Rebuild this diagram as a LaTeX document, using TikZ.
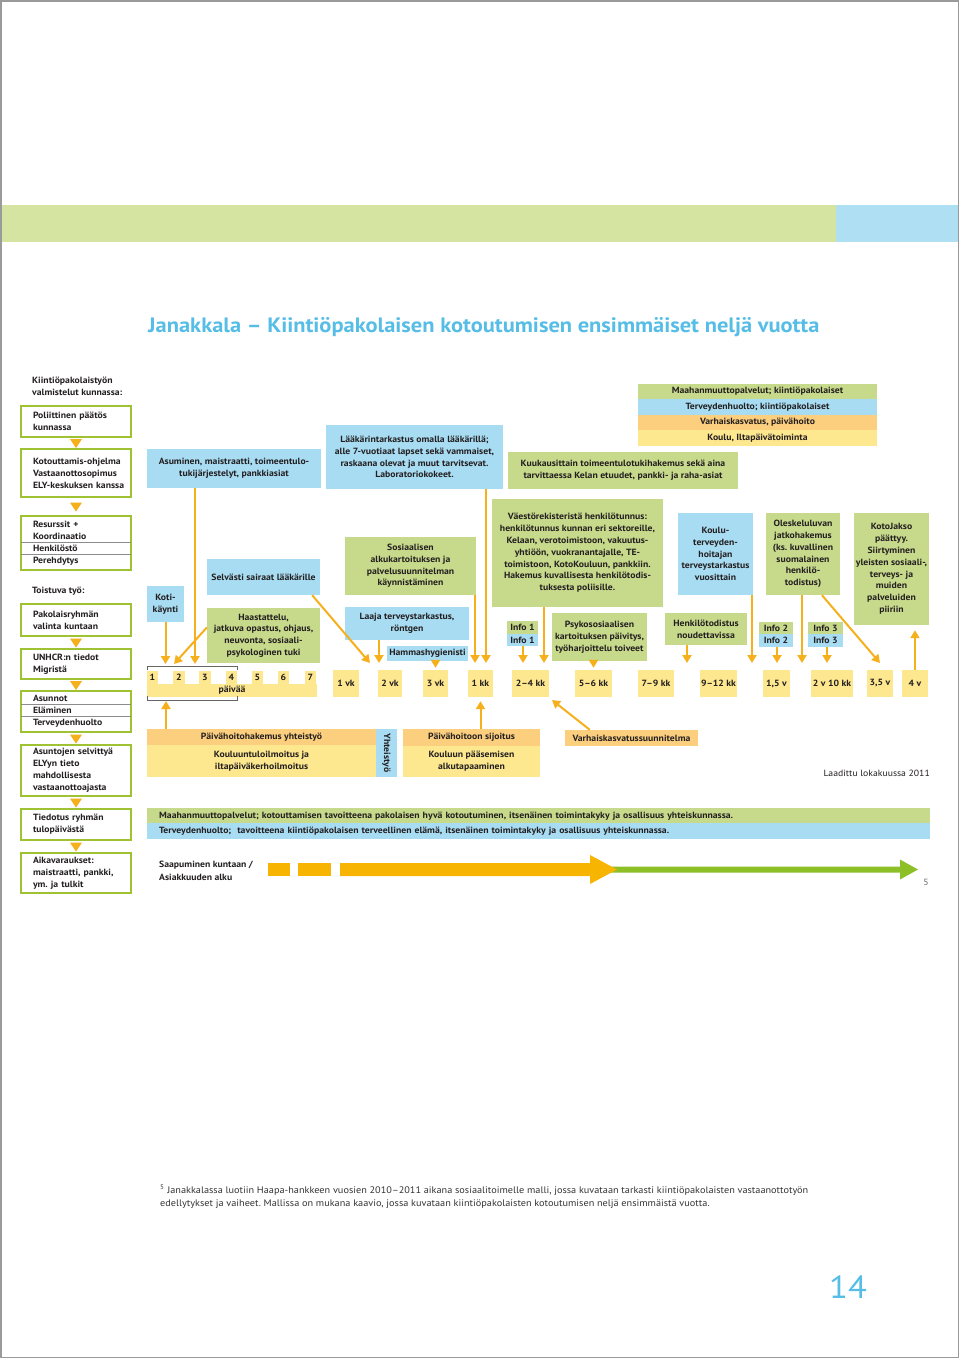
\documentclass[tikz,border=0pt]{standalone}
\usepackage{fontspec}
\setmainfont{PT Sans}[FakeStretch=1.08]
\usetikzlibrary{arrows.meta,calc}
\frenchspacing
\definecolor{grn}{HTML}{C7D98B}
\definecolor{blu}{HTML}{A8DCF2}
\definecolor{org}{HTML}{FBCF7E}
\definecolor{yel}{HTML}{FDE78F}
\definecolor{arrc}{HTML}{F5B01C}
\definecolor{lgrn}{HTML}{9EC232}
\definecolor{ttl}{HTML}{55BDE6}
\definecolor{topg}{HTML}{D6E4A1}
\definecolor{topb}{HTML}{AEDFF3}
\definecolor{bigo}{HTML}{F7B400}
\definecolor{bigg}{HTML}{8DC026}
\definecolor{frm}{HTML}{9A9A9A}
\definecolor{txt}{HTML}{231F20}
\begin{document}
\frenchspacing
\begin{tikzpicture}[x=1pt,y=-1pt,
  bx/.style={inner sep=0pt, align=center, text=txt, font=\bfseries\fontsize{9}{11.8}\selectfont},
  gb/.style={bx, fill=grn},
  bb/.style={bx, fill=blu},
  ob/.style={bx, fill=org},
  yb/.style={bx, fill=yel},
  tl/.style={bx, fill=yel, minimum height=27pt},
  lb/.style={draw=lgrn, line width=2pt, fill=white, anchor=north west, minimum width=110pt, text width=100pt, inner xsep=5pt, inner ysep=0pt, align=left, text=txt, font=\bfseries\fontsize{9}{12}\selectfont, execute at begin node={\leftskip=7pt}},
  arr/.style={draw=arrc, line width=2pt, -{Triangle[width=9pt,length=8pt]}},
  tri/.style={fill=arrc},
  sep/.style={draw=black!45, line width=0.8pt},
  brk/.style={draw=black!60, line width=1pt},
  plain/.style={inner sep=0pt, text=txt, font=\bfseries\fontsize{9}{12}\selectfont},
]
\useasboundingbox (0,0) rectangle (960,1358);
\fill[white] (0,0) rectangle (960,1358);
\draw[frm, line width=1.5pt] (0.75,0.75) rectangle (958.5,1357.25);

% top band
\fill[topg] (1.5,205) rectangle (836,242);
\fill[topb] (836,205) rectangle (957.75,242);

% title
\node[anchor=west, inner sep=0pt, text=ttl, font=\bfseries\fontsize{20.8}{24}\selectfont] (title) at (148,327) {Janakkala – Kiintiöpakolaisen kotoutumisen ensimmäiset neljä vuotta};

% left column
\node[plain, anchor=west, align=left] (hd1) at (32,386) {Kiintiöpakolaistyön\\valmistelut kunnassa:};
\node[lb, minimum height=31pt] (l1) at (20,405) {Poliittinen päätös\\kunnassa};
\node[lb, minimum height=48pt] (l2) at (20,448) {Kotouttamis-ohjelma\\Vastaanottosopimus\\ELY-keskuksen kanssa};
\node[lb, minimum height=54pt] (l3) at (20,515) {Resurssit +\\Koordinaatio\\Henkilöstö\\Perehdytys};
\draw[sep] ($(l3.north west)+(1,27)$) -- ($(l3.north east)+(-1,27)$);
\draw[sep] ($(l3.north west)+(1,39)$) -- ($(l3.north east)+(-1,39)$);
\node[plain, anchor=west] (hd2) at (32,591) {Toistuva työ:};
\node[lb, minimum height=32pt] (l4) at (20,603) {Pakolaisryhmän\\valinta kuntaan};
\node[lb, minimum height=30pt] (l5) at (20,648) {UNHCR:n tiedot\\Migristä};
\node[lb, minimum height=41pt] (l6) at (20,690) {Asunnot\\Eläminen\\Terveydenhuolto};
\draw[sep] ($(l6.north west)+(1,14.5)$) -- ($(l6.north east)+(-1,14.5)$);
\draw[sep] ($(l6.north west)+(1,26.5)$) -- ($(l6.north east)+(-1,26.5)$);
\node[lb, minimum height=51pt] (l7) at (20,744) {Asuntojen selvittyä\\ELYyn tieto\\mahdollisesta\\vastaanottoajasta};
\node[lb, minimum height=31pt] (l8) at (20,808) {Tiedotus ryhmän\\tulopäivästä};
\node[lb, minimum height=40pt] (l9) at (20,852) {Aikavaraukset:\\maistraatti, pankki,\\ym.\ ja tulkit};
\foreach \a/\b in {l1/l2, l2/l3, l4/l5, l5/l6, l6/l7, l7/l8, l8/l9}
  \fill[tri] ($(\a.south)!.5!(\b.north)$) +(-6,-4) -- +(6,-4) -- +(0,5) -- cycle;

% top boxes
\node[bb, minimum width=174pt, minimum height=39pt] (asum) at (234,468.5) {Asuminen, maistraatti, toimeentulo-\\tukijärjestelyt, pankkiasiat};
\node[bb, minimum width=177pt, minimum height=64pt] (laak) at (414.5,457) {Lääkärintarkastus omalla lääkärillä;\\alle 7-vuotiaat lapset sekä vammaiset,\\raskaana olevat ja muut tarvitsevat.\\Laboratoriokokeet.};
\node[gb, minimum width=230pt, minimum height=37pt] (kuuk) at (623,470.5) {Kuukausittain toimeentulotukihakemus sekä aina\\tarvittaessa Kelan etuudet, pankki- ja raha-asiat};
\node[gb, minimum width=239pt, minimum height=15.5pt] (lg1) at (757.5,391.5) {Maahanmuuttopalvelut; kiintiöpakolaiset};
\node[bb, minimum width=239pt, minimum height=15.5pt] (lg2) at (757.5,407) {Terveydenhuolto; kiintiöpakolaiset};
\node[ob, minimum width=239pt, minimum height=15.5pt] (lg3) at (757.5,422.5) {Varhaiskasvatus, päivähoito};
\node[yb, minimum width=239pt, minimum height=15.5pt] (lg4) at (757.5,438) {Koulu, Iltapäivätoiminta};

% middle boxes
\node[bb, minimum width=37pt, minimum height=36pt] (koti) at (165.5,604) {Koti-\\käynti};
\node[bb, minimum width=113pt, minimum height=36pt] (selv) at (263.5,577) {Selvästi sairaat lääkärille};
\node[gb, minimum width=113pt, minimum height=55pt] (haas) at (263.5,635.5) {Haastattelu,\\jatkuva opastus, ohjaus,\\neuvonta, sosiaali-\\psykologinen tuki};
\node[gb, minimum width=131pt, minimum height=58pt] (sosi) at (410.5,566) {Sosiaalisen\\alkukartoituksen ja\\palvelusuunnitelman\\käynnistäminen};
\node[bb, minimum width=124pt, minimum height=33pt] (laaja) at (407,623.5) {Laaja terveystarkastus,\\röntgen};
\node[bb, minimum width=81pt, minimum height=15pt] (hamm) at (427.5,653.5) {Hammashygienisti};
\node[gb, minimum width=171pt, minimum height=108pt] (vaes) at (577.5,553) {Väestörekisteristä henkilötunnus:\\henkilötunnus kunnan eri sektoreille,\\Kelaan, verotoimistoon, vakuutus-\\yhtiöön, vuokranantajalle, TE-\\toimistoon, KotoKouluun, pankkiin.\\Hakemus kuvallisesta henkilötodis-\\tuksesta poliisille.};
\node[gb, minimum width=31pt, minimum height=12.5pt] (info1g) at (522.5,627.5) {Info 1};
\node[bb, minimum width=31pt, minimum height=12.5pt] (info1b) at (522.5,640) {Info 1};
\node[gb, minimum width=95pt, minimum height=48pt] (psyk) at (599.5,637) {Psykososiaalisen\\kartoituksen päivitys,\\työharjoittelu toiveet};
\node[gb, minimum width=82pt, minimum height=32pt] (henk) at (706,629) {Henkilötodistus\\noudettavissa};
\node[bb, minimum width=75pt, minimum height=82pt] (koul) at (715.5,554) {Koulu-\\terveyden-\\hoitajan\\terveystarkastus\\vuosittain};
\node[gb, minimum width=74pt, minimum height=82pt] (oles) at (803,554) {Oleskeluluvan\\jatkohakemus\\(ks.\ kuvallinen\\suomalainen\\henkilö-\\todistus)};
\node[gb, minimum width=34pt, minimum height=12.5pt] (info2g) at (776,628) {Info 2};
\node[bb, minimum width=34pt, minimum height=12.5pt] (info2b) at (776,640.5) {Info 2};
\node[gb, minimum width=35pt, minimum height=12.5pt] (info3g) at (825.5,628) {Info 3};
\node[bb, minimum width=35pt, minimum height=12.5pt] (info3b) at (825.5,640.5) {Info 3};
\node[gb, minimum width=75pt, minimum height=112pt] (koto) at (891.5,569) {KotoJakso\\päättyy.\\Siirtyminen\\yleisten sosiaali-,\\terveys- ja\\muiden\\palveluiden\\piiriin};

% days
\node[yb, minimum width=170pt, minimum height=13pt] (days) at (232,690.5) {päivää};
\foreach \i/\x in {1/152.5, 2/179, 3/205, 4/231.5, 5/257.5, 6/283.5, 7/310.5}
  \node[yb, minimum width=11.5pt, minimum height=13.5pt] (d\i) at (\x,677.5) {\i};
\draw[brk] (147.5,670) -- (147.5,666) -- (237.5,666) -- (237.5,670);
\draw[brk] (147.5,696) -- (147.5,700) -- (237.5,700) -- (237.5,696);

% timeline
\node[tl, minimum width=26pt] (w1) at (346,683.5) {1 vk};
\node[tl, minimum width=24pt] (w2) at (390,683.5) {2 vk};
\node[tl, minimum width=25pt] (w3) at (435.5,683.5) {3 vk};
\node[tl, minimum width=25pt] (m1) at (480.5,683.5) {1 kk};
\node[tl, minimum width=37pt] (m24) at (530.5,683.5) {2–4 kk};
\node[tl, minimum width=37pt] (m56) at (593.5,683.5) {5–6 kk};
\node[tl, minimum width=36pt] (m79) at (656,683.5) {7–9 kk};
\node[tl, minimum width=37pt] (m912) at (718.5,683.5) {9–12 kk};
\node[tl, minimum width=27pt] (y15) at (776.5,683.5) {1,5 v};
\node[tl, minimum width=42pt] (y210) at (832,683.5) {2 v 10 kk};
\node[tl, minimum width=26pt] (y35) at (880,683.5) {3,5 v};
\node[tl, minimum width=26pt] (y4) at (915,683.5) {4 v};

% bottom boxes
\node[ob, minimum width=229pt, minimum height=16pt] (phak) at (261.5,737) {Päivähoitohakemus yhteistyö};
\node[yb, minimum width=229pt, minimum height=32pt] (kouil) at (261.5,761) {Kouluuntuloilmoitus ja\\iltapäiväkerhoilmoitus};
\node[bb, rotate=-90, minimum width=48pt, minimum height=21pt] (yht) at (386.5,753) {Yhteistyö};
\node[ob, minimum width=137pt, minimum height=17pt] (psij) at (471.5,737.5) {Päivähoitoon sijoitus};
\node[yb, minimum width=137pt, minimum height=31pt] (koulpa) at (471.5,761.5) {Kouluun pääsemisen\\alkutapaaminen};
\node[ob, minimum width=133pt, minimum height=16pt] (vasu) at (631.5,738) {Varhaiskasvatussuunnitelma};
\node[plain, font=\fontsize{9}{10}\selectfont, anchor=east] (laad) at (930,773) {Laadittu lokakuussa 2011};

% bands
\node[gb, anchor=north west, minimum width=783pt, minimum height=15pt, text width=759pt, inner xsep=12pt, align=left] (band1) at (147,808) {Maahanmuuttopalvelut; kotouttamisen tavoitteena pakolaisen hyvä kotoutuminen, itsenäinen toimintakyky ja osallisuus yhteiskunnassa.};
\node[bb, anchor=north west, minimum width=783pt, minimum height=15.5pt, text width=759pt, inner xsep=12pt, align=left] (band2) at (147,823) {Terveydenhuolto;\ \ tavoitteena kiintiöpakolaisen terveellinen elämä, itsenäinen toimintakyky ja osallisuus yhteiskunnassa.};

% arrival arrow
\node[plain, anchor=west, align=left, font=\bfseries\fontsize{9}{13}\selectfont] (saap) at (159,870.5) {Saapuminen kuntaan /\\Asiakkuuden alku};
\fill[bigg] (600,866.5) -- (900,866.5) -- (900,859.5) -- (918,869.5) -- (900,879.5) -- (900,872.5) -- (600,872.5) -- cycle;
\fill[bigo] (268,863) rectangle (290,876);
\fill[bigo] (298,863) rectangle (331,876);
\fill[bigo] (340,863) -- (590,863) -- (590,855) -- (617,869.5) -- (590,884) -- (590,876) -- (340,876) -- cycle;
\node[inner sep=0pt, text=black!60, font=\fontsize{9}{10}\selectfont] (pg5) at (926,882) {5};

% arrows
\coordinate (e1) at (195,664);
\coordinate (e3) at (174,664);
\coordinate (e4) at (370,663);
\coordinate (e5) at (379,663);
\coordinate (e7) at (475,663);
\coordinate (e8) at (486,663);
\coordinate (e9) at (523,663);
\coordinate (e10) at (544,663);
\coordinate (e12) at (687,663);
\coordinate (e13) at (752,663);
\coordinate (e14) at (802,663);
\coordinate (e15) at (880,663);
\coordinate (e16) at (777,663);
\coordinate (e17) at (827,663);
\coordinate (e19) at (166,701);
\coordinate (e21) at (552,700);
\draw[arr] (asum.south -| e1) -- (e1);
\draw[arr] (koti.south) -- (koti.south |- e1);
\draw[arr] ($(haas.west)+(0,-8)$) -- (e3);
\draw[arr] ($(selv.south east)+(-8,0)$) -- (e4);
\draw[arr] (laaja.south -| e5) -- (e5);
\draw[arr, shorten >=2pt] (hamm.south -| w3) -- (w3.north);
\draw[arr] (sosi.south -| e7) -- (e7);
\draw[arr] (laak.south -| e8) -- (e8);
\draw[arr] (info1b.south -| e9) -- (e9);
\draw[arr] (vaes.south -| e10) -- (e10);
\draw[arr, shorten >=2pt] (psyk.south -| m56) -- (m56.north);
\draw[arr] (henk.south -| e12) -- (e12);
\draw[arr] (koul.south -| e13) -- (e13);
\draw[arr] (oles.south -| e14) -- (e14);
\draw[arr] ($(oles.south)+(19,0)$) -- (e15);
\draw[arr] (info2b.south -| e16) -- (e16);
\draw[arr] (info3b.south -| e17) -- (e17);
\draw[arr, shorten >=5pt] (y4.north) -- (y4.north |- koto.south);
\draw[arr] (phak.north -| e19) -- (e19);
\draw[arr, shorten >=4pt] (psij.north -| m1) -- (m1.south);
\draw[arr] ($(vasu.north west)+(25,0)$) -- (e21);

% footnote
\node[anchor=north west, inner sep=0pt, align=left, text=black!80, font=\fontsize{9.5}{13}\selectfont] (fn) at (160,1185) {\textsuperscript{5} Janakkalassa luotiin Haapa-hankkeen vuosien 2010–2011 aikana sosiaalitoimelle malli, jossa kuvataan tarkasti kiintiöpakolaisten vastaanottotyön\\edellytykset ja vaiheet. Mallissa on mukana kaavio, jossa kuvataan kiintiöpakolaisten kotoutumisen neljä ensimmäistä vuotta.};
\node[inner sep=0pt, text=ttl, font=\fontsize{32}{34}\selectfont] (pgn) at (848,1287) {14};
\end{tikzpicture}
\end{document}
